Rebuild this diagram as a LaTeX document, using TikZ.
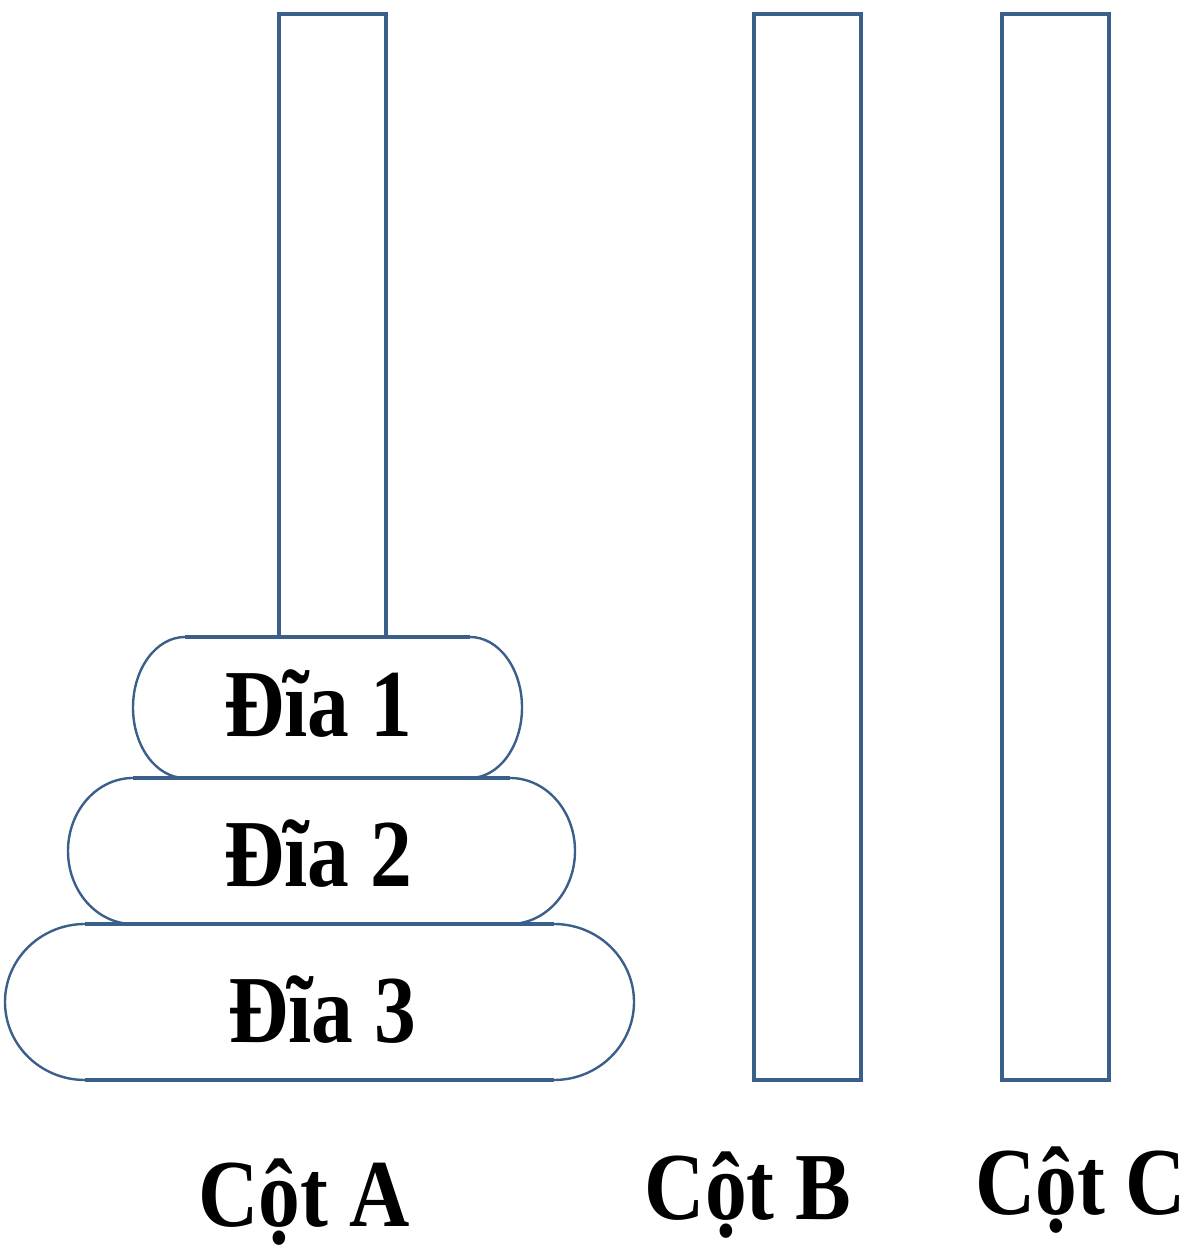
\documentclass[tikz,border=0pt]{standalone}
\usepackage{fontspec}
\setmainfont{Liberation Serif}
\definecolor{pegblue}{RGB}{58,95,138}
\tikzset{
  thickline/.style={draw=pegblue, line width=3.6pt},
  thinline/.style={draw=pegblue, line width=2.4pt},
  lbl/.style={anchor=base, inner sep=0pt, font=\fontsize{96}{100}\selectfont\bfseries},
}
\newcommand{\sq}[1]{\scalebox{0.87}[1]{#1}}
\begin{document}
\begin{tikzpicture}[x=1pt,y=1pt]
\useasboundingbox (0,0) rectangle (1186,1246);
% columns
\draw[thickline] (279,609) rectangle (386,1232);
\draw[thickline] (754,166) rectangle (861,1232);
\draw[thickline] (1002,166) rectangle (1109,1232);
% disk 1
\draw[thickline] (185,609) -- (470,609);
\draw[thickline] (185,468) -- (470,468);
\draw[thinline] (470,609) arc[start angle=90, end angle=-90, x radius=52pt, y radius=70.5pt];
\draw[thinline] (185,468) arc[start angle=270, end angle=90, x radius=52pt, y radius=70.5pt];
% disk 2
\draw[thickline] (133,468) -- (510,468);
\draw[thickline] (133,322) -- (510,322);
\draw[thinline] (510,468) arc[start angle=90, end angle=-90, x radius=65pt, y radius=73pt];
\draw[thinline] (133,322) arc[start angle=270, end angle=90, x radius=65pt, y radius=73pt];
% disk 3
\draw[thickline] (85,322) -- (554,322);
\draw[thickline] (85,166) -- (554,166);
\draw[thinline] (554,322) arc[start angle=90, end angle=-90, x radius=80pt, y radius=78pt];
\draw[thinline] (85,166) arc[start angle=270, end angle=90, x radius=80pt, y radius=78pt];
% labels
\node[lbl] (d1) at (318,509) {\sq{Đĩa 1}};
\node[lbl] (d2) at (318,359) {\sq{Đĩa 2}};
\node[lbl] (d3) at (322,203) {\sq{Đĩa 3}};
\node[lbl] (ca) at (304,19) {\sq{Cột A}};
\node[lbl] (cb) at (748,26) {\sq{Cột B}};
\node[lbl, anchor=base west] (cc) at (975,31) {\sq{Cột C}};
\end{tikzpicture}
\end{document}
